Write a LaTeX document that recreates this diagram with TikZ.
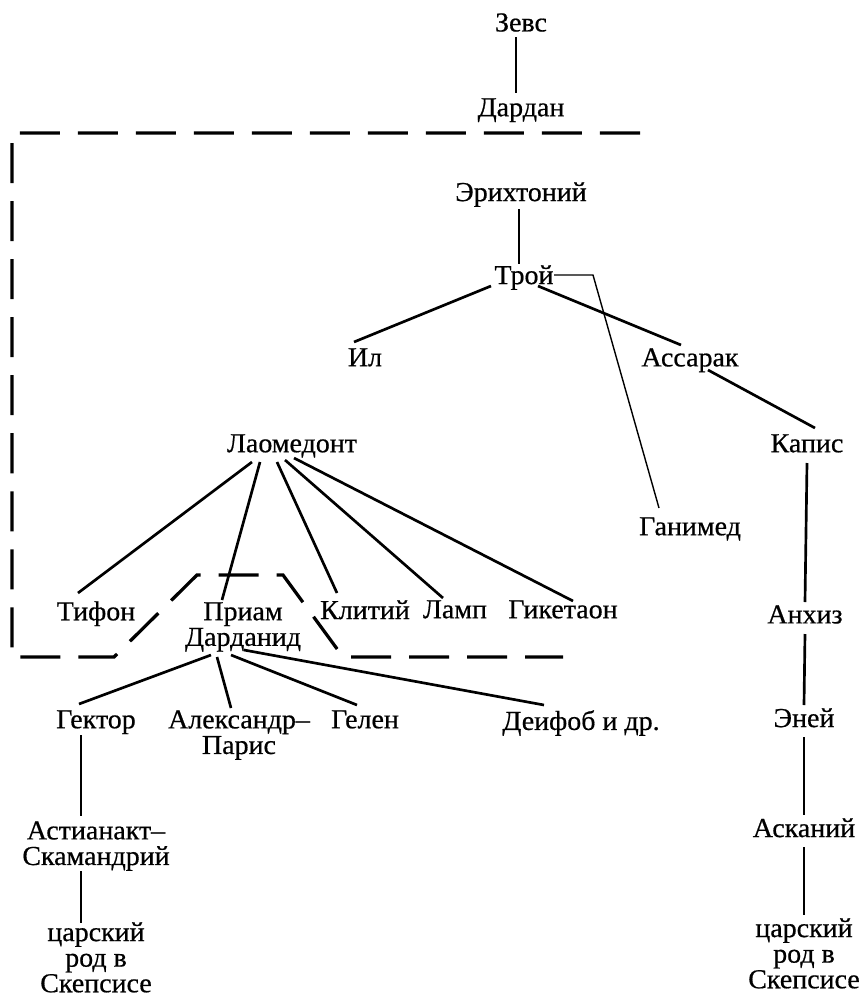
\documentclass[tikz,border=0pt]{standalone}
\usepackage{fontspec}
\setmainfont{Liberation Serif}[FakeStretch=1.02,FakeBold=0.6]
\usetikzlibrary{calc}

\begin{document}
\begin{tikzpicture}[x=0.025cm,y=-0.025cm]
  \tikzset{person/.style = {anchor=north,inner sep=0pt,align=center,font=\fontsize{19.5}{18.2}\selectfont}}
  \tikzset{tie/.style = {line width=1.9pt}}
  \tikzset{thintie/.style = {line width=1pt}}
  \tikzset{house/.style = {line width=2.3pt,dash pattern=on 1cm off 0.45cm}}

  \useasboundingbox (0,0) rectangle (859,1001);

  % the line of Dardanus
  \node[person] (zevs) at (521,13) {Зевс};
  \node[person] (dardan) at (521,98) {Дардан};
  \node[person] (erich) at (521,182) {Эрихтоний};
  \node[person] (tros) at (524,265) {Трой};
  \node[person] (il) at (365,348) {Ил};
  \node[person] (assarak) at (690,348) {Ассарак};
  \node[person] (ganymed) at (690,517) {Ганимед};
  \node[person] (laomedont) at (292,434) {Лаомедонт};

  % sons of Laomedon
  \node[person] (tifon) at (96,601) {Тифон};
  \node[person] (priam) at (243,602) {Приам\\Дарданид};
  \node[person] (klitij) at (365,600) {Клитий};
  \node[person] (lamp) at (455,600) {Ламп};
  \node[person] (giketaon) at (563,600) {Гикетаон};

  % sons of Priam
  \node[person] (hektor) at (96,710) {Гектор};
  \node[person] (aleksandr) at (239,710) {Александр–\\Парис};
  \node[person] (gelen) at (365,710) {Гелен};
  \node[person] (deifob) at (581,710) {Деифоб и др.};
  \node[person] (astianakt) at (96,821) {Астианакт–\\Скамандрий};
  \node[person] (skepsis1) at (96,922) {царский\\род в\\Скепсисе};

  % the line of Assaracus
  \node[person] (kapis) at (807,434) {Капис};
  \node[person] (anchiz) at (805,605) {Анхиз};
  \node[person] (enej) at (804,708) {Эней};
  \node[person] (askanij) at (804,818) {Асканий};
  \node[person] (skepsis2) at (804,918) {царский\\род в\\Скепсисе};

  \draw[house] (640,133) -- (12,133) -- (12,657) -- (114,657) -- (197,575) -- (283,575)
    -- (343,657) -- (563,657);

  \draw[tie] ($(zevs.north)+(-5,24)$) -- ($(dardan.north)+(-5,-5)$);
  \draw[thintie] ($(erich.north)+(-2,27)$) -- ($(tros.north)+(-5,-1)$);
  \draw[tie] ($(tros.north)+(-33,21)$) -- ($(il.north)+(-11,-6)$);
  \draw[tie] ($(tros.north)+(14,21)$) -- ($(assarak.north)+(-9,-3)$);
  \draw[thintie] ($(tros.north)+(30,10)$) -- ($(tros.north)+(69,10)$) -- ($(ganymed.north)+(-31,-9)$);
  \draw[tie] ($(assarak.north)+(18,22)$) -- ($(kapis.north)+(8,-6)$);

  \draw[tie] ($(laomedont.north)+(-40,28)$) -- ($(tifon.north)+(-18,-8)$);
  \draw[tie] ($(laomedont.north)+(-32,28)$) -- ($(priam.north)+(-21,-2)$);
  \draw[tie] ($(laomedont.north)+(-15,28)$) -- ($(klitij.north)+(-28,-7)$);
  \draw[tie] ($(laomedont.north)+(-7,26)$) -- ($(lamp.north)+(-12,-2)$);
  \draw[tie] ($(laomedont.north)+(2,24)$) -- ($(giketaon.north)+(10,1)$);

  \draw[tie] ($(priam.north)+(-32,53)$) -- ($(hektor.north)+(-17,-6)$);
  \draw[tie] ($(priam.north)+(-26,55)$) -- ($(aleksandr.north)+(-8,-2)$);
  \draw[tie] ($(priam.north)+(-12,53)$) -- ($(gelen.north)+(-8,-5)$);
  \draw[tie] ($(priam.north)+(1,48)$) -- ($(deifob.north)+(-37,-5)$);
  \draw[thintie] ($(hektor.north)+(-15,25)$) -- ($(astianakt.north)+(-15,-5)$);
  \draw[thintie] ($(astianakt.north)+(-15,50)$) -- ($(skepsis1.north)+(-15,1)$);

  \foreach \from/\to in {kapis/anchiz,anchiz/enej,enej/askanij,askanij/skepsis2}
    \draw[tie] ($(\from.north)+(0,29)$) -- ($(\to.north)+(0,-3)$);

\end{tikzpicture}
\end{document}
